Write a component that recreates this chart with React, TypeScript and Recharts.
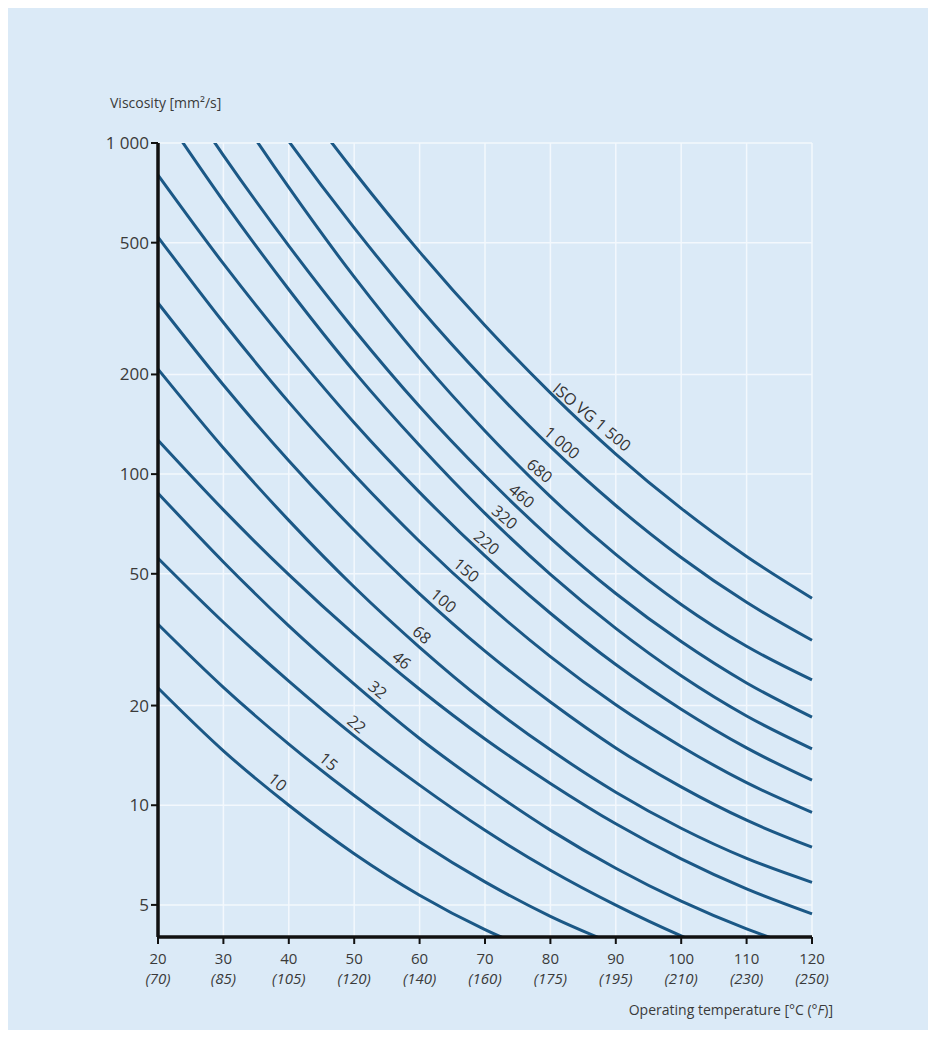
import React from "react";
import { LineChart, Line, XAxis, YAxis, CartesianGrid, ReferenceDot } from "recharts";

// temperatures in °C, with the °F equivalents printed under each tick
const temps = [20, 30, 40, 50, 60, 70, 80, 90, 100, 110, 120];
const fahrenheit = [70, 85, 105, 120, 140, 160, 175, 195, 210, 230, 250];
const viscTicks = [5, 10, 20, 50, 100, 200, 500, 1000];

// viscosity [mm²/s] per ISO VG grade, read at each 10 °C step
const vg10 = [22.6, 14.6, 10.0, 7.14, 5.35, 4.21, 3.47];
const vg15 = [35.2, 22.7, 15.3, 10.7, 7.76, 5.87, 4.62, 3.79];
const vg22 = [55.7, 35.7, 23.7, 16.2, 11.5, 8.4, 6.36, 4.99, 4.03, 3.36];
const vg32 = [87.6, 54.3, 34.8, 23.2, 15.9, 11.4, 8.41, 6.45, 5.13, 4.23, 3.62];
const vg46 = [126.6, 78.0, 49.7, 32.8, 22.4, 15.85, 11.64, 8.79, 6.89, 5.59, 4.7];
const vg68 = [207.5, 119.9, 72.5, 45.6, 30.0, 20.5, 14.7, 10.95, 8.52, 6.91, 5.85];
const vg100 = [328.6, 185.8, 109.7, 67.7, 43.5, 29.2, 20.5, 14.9, 11.36, 9.01, 7.47];
const vg150 = [520, 287, 165, 99.6, 62.6, 41.1, 28.1, 20.1, 15.05, 11.7, 9.52];
const vg220 = [800, 432, 244, 143, 88.1, 56.6, 38.0, 26.6, 19.5, 14.9, 11.9];
const vg320 = [1293, 668, 361, 204, 122, 76.1, 49.8, 34.2, 24.6, 18.6, 14.8];
const vg460 = [1810, 918, 489, 273, 160, 99.0, 64.1, 43.6, 31.2, 23.4, 18.45];
const vg680 = [2982, 1438, 734, 394, 224, 135, 85.5, 57.2, 40.4, 30.2, 23.9];
const vg1000 = [3921, 1945, 1012, 554, 318, 192, 121, 80.4, 56.0, 41.0, 31.5];
const vg1500 = [5703, 2856, 1495, 819, 469, 281, 176, 115, 78.8, 56.4, 42.2];

const seriesKeys = ["vg10", "vg15", "vg22", "vg32", "vg46", "vg68", "vg100", "vg150", "vg220", "vg320", "vg460", "vg680", "vg1000", "vg1500"];
const seriesValues = [vg10, vg15, vg22, vg32, vg46, vg68, vg100, vg150, vg220, vg320, vg460, vg680, vg1000, vg1500];

// curve labels: text, and the point on the curve they sit above
const labelTexts = ["10", "15", "22", "32", "46", "68", "100", "150", "220", "320", "460", "680", "1 000", "ISO VG 1 500"];
const labelTemps = [37.26, 45.06, 49.34, 52.55, 56.21, 59.31, 62.61, 66.11, 69.21, 71.97, 74.57, 77.31, 80.71, 85.31];
const labelVisc = [11.1, 12.8, 16.6, 21.1, 25.9, 30.9, 39.2, 48.4, 58.6, 70.0, 81.2, 96.7, 117.5, 140.4];

const data = temps.map((t, i) => {
  const row: Record<string, number> = { t };
  seriesKeys.forEach((k, j) => {
    const v = seriesValues[j][i];
    if (v !== undefined) row[k] = v;
  });
  return row;
});

const FONT = "'Open Sans', sans-serif";
const LINE = "#1b5886";
const TEXT = "#3a3a3a";

function TempTick(props: any) {
  const { x, y, payload } = props;
  const f = fahrenheit[temps.indexOf(payload.value)];
  return (
    <g>
      <text x={x} y={y + 18} textAnchor="middle" fontSize={15} fill={TEXT} fontFamily={FONT}>
        {payload.value}
      </text>
      <text x={x} y={y + 38} textAnchor="middle" fontSize={15} fontStyle="italic" fill={TEXT} fontFamily={FONT}>
        ({f})
      </text>
    </g>
  );
}

function CurveLabel(props: any) {
  const vb = props.viewBox || {};
  const cx = (vb.x ?? 0) + (vb.width ?? 0) / 2;
  const cy = (vb.y ?? 0) + (vb.height ?? 0) / 2;
  return (
    <text
      x={cx}
      y={cy}
      dy={-11}
      dominantBaseline="central"
      textAnchor="middle"
      transform={`rotate(40 ${cx} ${cy})`}
      fontSize={16}
      fill="#333"
      fontFamily={FONT}
    >
      {props.text}
    </text>
  );
}

export default function App() {
  return (
    <div
      style={{
        position: "relative",
        width: 920,
        height: 1022,
        background: "#dbeaf7",
        fontFamily: FONT,
      }}
    >
      <div style={{ position: "absolute", left: 102, top: 88, fontSize: 14, color: TEXT, lineHeight: 1 }}>
        Viscosity [mm²/s]
      </div>
      <div style={{ position: "absolute", right: 95, top: 995, fontSize: 14, color: TEXT, lineHeight: 1 }}>
        Operating temperature [°C (<i>°F</i>)]
      </div>
      <LineChart width={920} height={1022} data={data} margin={{ top: 135, right: 116, bottom: 33, left: 90 }}>
        <CartesianGrid stroke="#f3f8fd" strokeWidth={1.5} />
        <XAxis
          dataKey="t"
          type="number"
          domain={[20, 120]}
          ticks={temps}
          height={60}
          tick={<TempTick />}
          tickSize={7}
          tickLine={{ stroke: "#111", strokeWidth: 2 }}
          axisLine={{ stroke: "#111", strokeWidth: 3.5 }}
        />
        <YAxis
          type="number"
          scale="log"
          domain={[4, 1000]}
          allowDataOverflow
          ticks={viscTicks}
          width={60}
          tickSize={7}
          tickFormatter={(v: number) => (v === 1000 ? "1 000" : String(v))}
          tick={{ fontSize: 17, fill: TEXT, fontFamily: FONT }}
          tickLine={{ stroke: "#111", strokeWidth: 2 }}
          axisLine={{ stroke: "#111", strokeWidth: 3.5 }}
        />
        {seriesKeys.map((k) => (
          <Line
            key={k}
            dataKey={k}
            type="monotone"
            stroke={LINE}
            strokeWidth={3}
            dot={false}
            activeDot={false}
            isAnimationActive={false}
          />
        ))}
        {labelTexts.map((txt, i) => (
          <ReferenceDot
            key={txt}
            x={labelTemps[i]}
            y={labelVisc[i]}
            r={0}
            fill="none"
            stroke="none"
            label={<CurveLabel text={txt} />}
          />
        ))}
      </LineChart>
    </div>
  );
}
